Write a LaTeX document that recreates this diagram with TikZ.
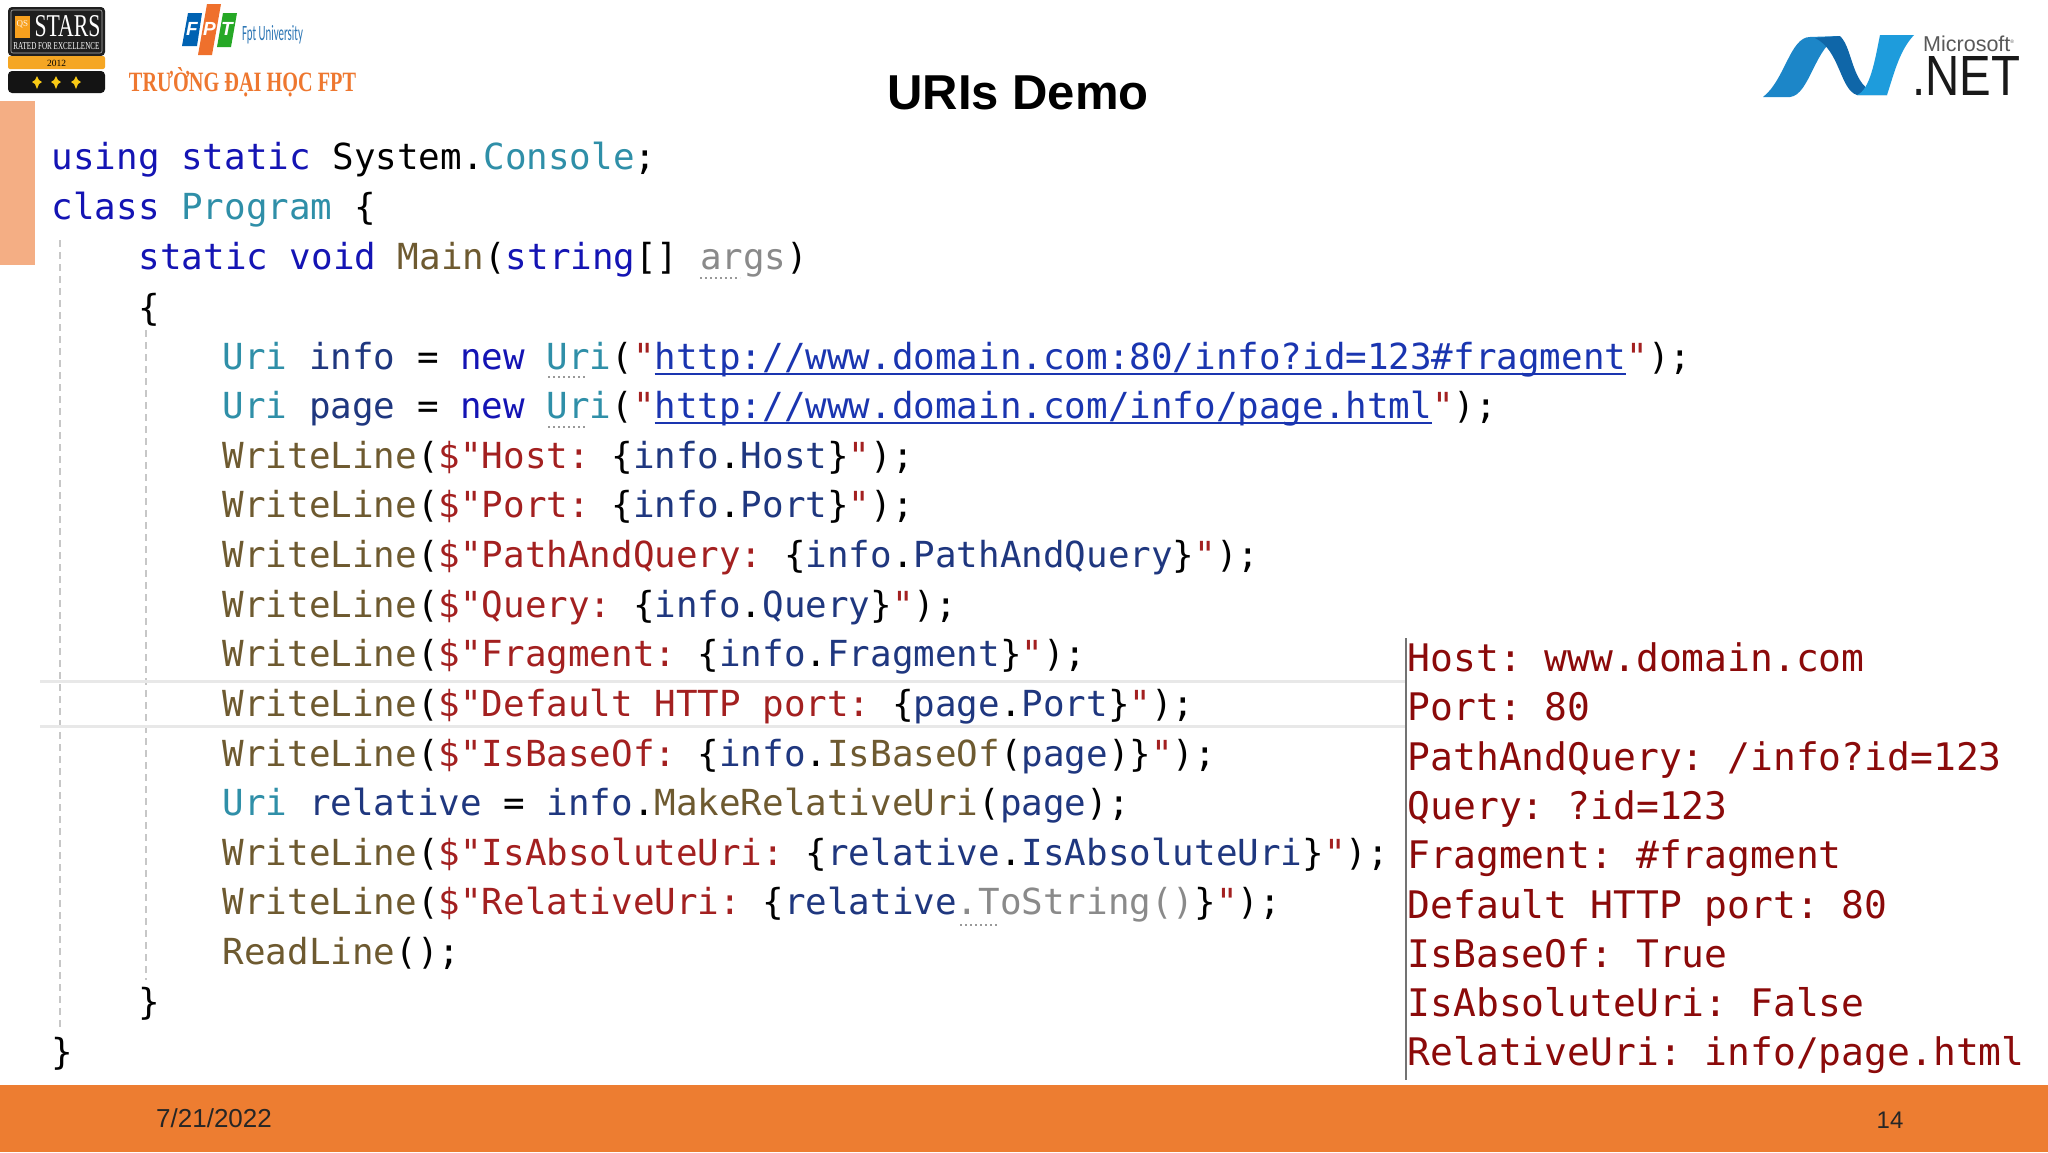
\documentclass[tikz,border=0pt]{standalone}
\usepackage{fontspec}
\setmainfont{Liberation Sans}
\newfontfamily\codefont{DejaVu Sans Mono}
\newfontfamily\serifb{Liberation Serif}
\newfontfamily\carl{Carlito}
\definecolor{kwc}{HTML}{1414B4}
\definecolor{tyc}{HTML}{2F8FA8}
\definecolor{mec}{HTML}{6E5A30}
\definecolor{stc}{HTML}{A32020}
\definecolor{vac}{HTML}{1F377F}
\definecolor{gyc}{HTML}{8A8A8A}
\definecolor{ulc}{HTML}{1A35B0}
\definecolor{outc}{HTML}{8B0A0A}
\definecolor{barc}{HTML}{ED7D31}
\definecolor{tabc}{HTML}{F4AE84}
\definecolor{goldc}{HTML}{F5A623}
\definecolor{neta}{HTML}{1C86C8}
\definecolor{netb}{HTML}{0F66A8}
\definecolor{netc}{HTML}{1E9CDC}
\newcommand\kw[1]{\textcolor{kwc}{#1}}
\newcommand\ty[1]{\textcolor{tyc}{#1}}
\newcommand\me[1]{\textcolor{mec}{#1}}
\newcommand\st[1]{\textcolor{stc}{#1}}
\newcommand\va[1]{\textcolor{vac}{#1}}
\newcommand\gy[1]{\textcolor{gyc}{#1}}
\newcommand\lnk[1]{\setbox0\hbox{\textcolor{ulc}{#1}}\rlap{\textcolor{ulc}{\rule[-6pt]{\wd0}{2pt}}}\box0}
\newcommand\wl[1]{\me{WriteLine}(\st{\$"}#1);}
\begin{document}
\begin{tikzpicture}[x=1pt,y=-1pt,
  codeline/.style={anchor=base west,inner sep=0pt,font=\codefont\fontsize{35.87}{36}\selectfont\frenchspacing},
  outline/.style={anchor=base west,inner sep=0pt,text=outc,font=\codefont\fontsize{37.95}{38}\selectfont\frenchspacing},
  guide/.style={draw=black!22,line width=1.5pt,dash pattern=on 7pt off 5pt},
  dots/.style={draw=black!40,line width=2pt,dash pattern=on 2pt off 3pt},
  hl/.style={draw=black!9,line width=3pt}]
\useasboundingbox (0,0) rectangle (2048,1152);
\fill[white] (0,0) rectangle (2048,1152);
% side tab and footer
\fill[tabc] (0,101) rectangle (35,265);
\fill[barc] (0,1085) rectangle (2048,1152);
\node[inner sep=0pt,anchor=base west,font=\fontsize{26}{26}\selectfont,text=black!85] (date) at (156,1127) {7/21/2022};
\node[inner sep=0pt,anchor=base,font=\fontsize{24}{24}\selectfont,text=black!85] (pg) at (1890,1128) {14};
\node[inner sep=0pt,font=\bfseries\fontsize{49}{49}\selectfont] (title) at (1018,92.5) {URIs Demo};
% guides
\draw[guide] (60,240) -- (60,1030);
\draw[guide] (146,330) -- (146,980);
\draw[hl] (40,681) -- (1405,681);
\draw[hl] (40,726) -- (1405,726);
\draw[black!55,line width=1.5pt] (1406,638) -- (1406,1080);
% code
\begin{scope}[xshift=0.5pt,yshift=-1.3pt]
\node[codeline] (c1) at (51,168) {\kw{using} \kw{static} System.\ty{Console};};
\node[codeline] (c2) at (51,218) {\kw{class} \ty{Program} \{};
\node[codeline] (c3) at (138,268) {\kw{static} \kw{void} \me{Main}(\kw{string}[] \gy{args})};
\node[codeline] (c4) at (138,319) {\{};
\node[codeline] (c5) at (222,368) {\ty{Uri} \va{info} = \kw{new} \ty{Uri}(\st{"}\lnk{http://www.domain.com:80/info?id=123\#fragment}\st{"});};
\node[codeline] (c6) at (222,417) {\ty{Uri} \va{page} = \kw{new} \ty{Uri}(\st{"}\lnk{http://www.domain.com/info/page.html}\st{"});};
\node[codeline] (c7) at (222,467) {\wl{\st{Host: }\{\va{info}.\va{Host}\}\st{"}}};
\node[codeline] (c8) at (222,516) {\wl{\st{Port: }\{\va{info}.\va{Port}\}\st{"}}};
\node[codeline] (c9) at (222,566) {\wl{\st{PathAndQuery: }\{\va{info}.\va{PathAndQuery}\}\st{"}}};
\node[codeline] (c10) at (222,616) {\wl{\st{Query: }\{\va{info}.\va{Query}\}\st{"}}};
\node[codeline] (c11) at (222,665) {\wl{\st{Fragment: }\{\va{info}.\va{Fragment}\}\st{"}}};
\node[codeline] (c12) at (222,715) {\wl{\st{Default HTTP port: }\{\va{page}.\va{Port}\}\st{"}}};
\node[codeline] (c13) at (222,765) {\wl{\st{IsBaseOf: }\{\va{info}.\me{IsBaseOf}(\va{page})\}\st{"}}};
\node[codeline] (c14) at (222,814) {\ty{Uri} \va{relative} = \va{info}.\me{MakeRelativeUri}(\va{page});};
\node[codeline] (c15) at (222,864) {\wl{\st{IsAbsoluteUri: }\{\va{relative}.\va{IsAbsoluteUri}\}\st{"}}};
\node[codeline] (c16) at (222,913) {\wl{\st{RelativeUri: }\{\va{relative}\gy{.ToString()}\}\st{"}}};
\node[codeline] (c17) at (222,963) {\me{ReadLine}();};
\node[codeline] (c18) at (138,1013) {\}};
\node[codeline] (c19) at (51,1063) {\}};
\end{scope}
% hint dots
\draw[dots] (700,278) -- (740,278);
\draw[dots] (548,377) -- (586,377);
\draw[dots] (548,427) -- (586,427);
\draw[dots] (960,925) -- (998,925);
% output
\node[outline] (o1) at (1407.5,671) {Host: www.domain.com};
\node[outline] (o2) at (1407.5,720.5) {Port: 80};
\node[outline] (o3) at (1407.5,770) {PathAndQuery: /info?id=123};
\node[outline] (o4) at (1407.5,819) {Query: ?id=123};
\node[outline] (o5) at (1407.5,868.5) {Fragment: \#fragment};
\node[outline] (o6) at (1407.5,918) {Default HTTP port: 80};
\node[outline] (o7) at (1407.5,967) {IsBaseOf: True};
\node[outline] (o8) at (1407.5,1016.5) {IsAbsoluteUri: False};
\node[outline] (o9) at (1407.5,1065.5) {RelativeUri: info/page.html};
% QS stars badge
\fill[black!88,rounded corners=4pt] (8,7) rectangle (105,56);
\draw[white!70!black,line width=.6pt,rounded corners=2pt] (11,10) rectangle (102,53);
\fill[goldc,rounded corners=2pt] (8,56) rectangle (105,69);
\fill[black!92,rounded corners=4pt] (8,71) rectangle (105,93);
\fill[goldc!85!orange] (15,16) rectangle (30,38);
\node[inner sep=0pt,text=white!90!orange,font=\serifb\fontsize{9}{9}\selectfont] (qs) at (22.5,24) {QS};
\node[inner sep=0pt,text=white,font=\serifb\fontsize{25}{25}\selectfont] (stars) at (67.5,26.5) {\resizebox{66pt}{21pt}{STARS}};
\node[inner sep=0pt,text=white,font=\serifb\fontsize{7.2}{8}\selectfont] (rated) at (56.5,46) {\resizebox{86pt}{7pt}{RATED FOR EXCELLENCE}};
\node[inner sep=0pt,text=black,font=\serifb\fontsize{9.5}{10}\selectfont] (yr) at (56.5,63) {2012};
\foreach \sx/\sn in {37/a,56/b,76/c}{
  \fill[goldc!60!yellow] (\sx,76) -- (\sx+2,80) -- (\sx+5,82) -- (\sx+2,84) -- (\sx,89) -- (\sx-2,84) -- (\sx-5,82) -- (\sx-2,80) -- cycle;
}
% FPT logo
\fill[blue!45!cyan!70!black] (182,46) -- (188,13) -- (202,13) -- (197,46) -- cycle;
\fill[barc!90!red] (198,55) -- (207,4) -- (221,4) -- (212,55) -- cycle;
\fill[green!60!black!85!white] (217,47) -- (223,13) -- (237,13) -- (231,47) -- cycle;
\node[inner sep=0pt,text=white,font=\bfseries\itshape\fontsize{19}{19}\selectfont] (lf) at (192,29) {F};
\node[inner sep=0pt,text=white,font=\bfseries\itshape\fontsize{19}{19}\selectfont] (lp) at (209.5,29) {P};
\node[inner sep=0pt,text=white,font=\bfseries\itshape\fontsize{19}{19}\selectfont] (lt) at (227,29) {T};
\node[inner sep=0pt,text=cyan!60!blue!85!black,font=\carl\fontsize{16.5}{17}\selectfont] (fu) at (272.5,34.5) {\resizebox{61pt}{15pt}{Fpt University}};
\node[inner sep=0pt,text=barc!95!red,font=\serifb\bfseries\fontsize{28}{28}\selectfont] (truong) at (242.5,82) {\resizebox{227pt}{24pt}{TRƯỜNG ĐẠI HỌC FPT}};
% .NET logo
\fill[neta] (1763,97) .. controls (1785,80) and (1790,37) .. (1810,37) -- (1840,36) .. controls (1815,45) and (1810,95) .. (1790,97) -- cycle;
\fill[netb] (1815,38) -- (1840,36) .. controls (1855,50) and (1850,95) .. (1887,95) -- (1857,95) .. controls (1840,90) and (1840,50) .. (1815,38) -- cycle;
\fill[netc] (1857,95) -- (1887,95) .. controls (1895,70) and (1900,50) .. (1914,35) -- (1880,35) .. controls (1875,60) and (1870,90) .. (1857,95) -- cycle;
\node[inner sep=0pt,anchor=base west,text=black!65,font=\fontsize{21.5}{22}\selectfont] (ms) at (1923,51) {Microsoft\textsuperscript{\tiny ®}};
\node[inner sep=0pt,text=black!90,font=\fontsize{54}{54}\selectfont] (net) at (1966,76) {\resizebox{108pt}{39pt}{.NET}};
\end{tikzpicture}
\end{document}
